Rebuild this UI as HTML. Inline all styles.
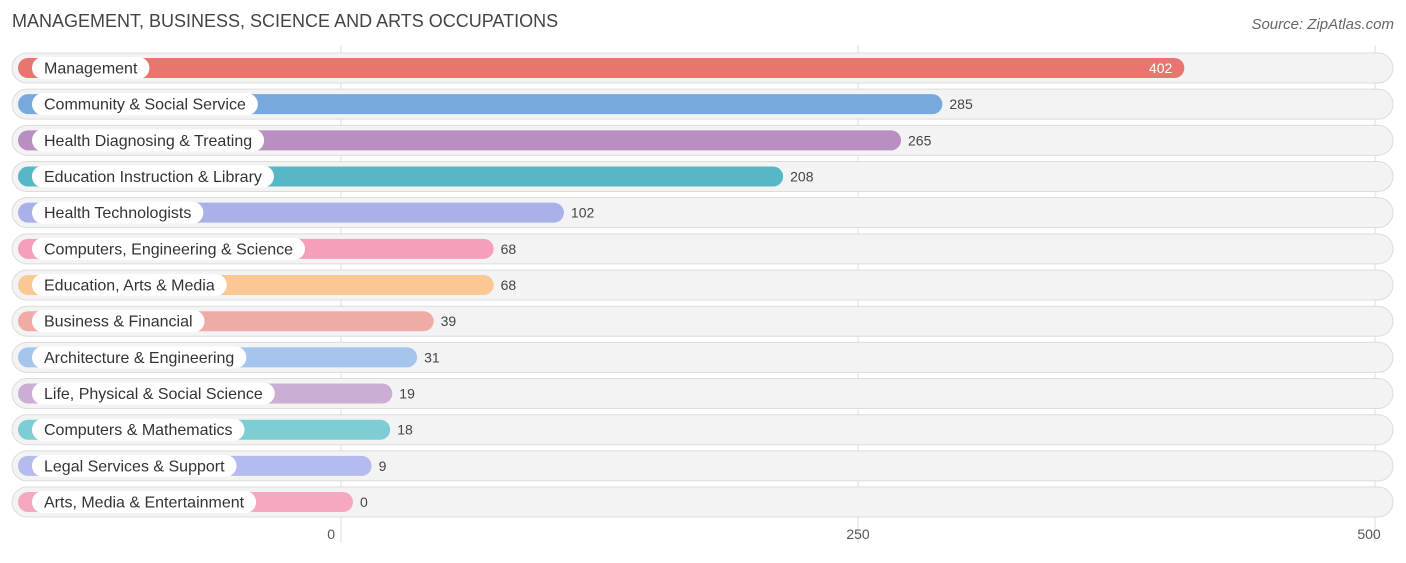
<!DOCTYPE html>
<html><head><meta charset="utf-8"><style>
body{margin:0;background:#fff;font-family:"Liberation Sans",sans-serif;}
</style></head><body>
<svg id="c" width="1406" height="558" xmlns="http://www.w3.org/2000/svg">
<text x="12" y="27" font-size="18" fill="#444">MANAGEMENT, BUSINESS, SCIENCE AND ARTS OCCUPATIONS</text>
<text x="1394" y="29" font-size="15" fill="#666" font-style="italic" text-anchor="end">Source: ZipAtlas.com</text>
</svg>
<script>
const categories=["Management","Community & Social Service","Health Diagnosing & Treating","Education Instruction & Library","Health Technologists","Computers, Engineering & Science","Education, Arts & Media","Business & Financial","Architecture & Engineering","Life, Physical & Social Science","Computers & Mathematics","Legal Services & Support","Arts, Media & Entertainment"];
const values=[402,285,265,208,102,68,68,39,31,19,18,9,0];
const colors=["#e8766f","#77a9de","#b88fc0","#56b8c6","#a9b1e8","#f59fba","#fbc792","#f0aba6","#a5c5ec","#cbaed4","#7dcdd2","#b4bbee","#f5a8c0"];
const ticks=[0,250,500];
const svg=document.getElementById('c');const NS="http://www.w3.org/2000/svg";
const x=v=>341+v*(517/250);
const y0=68,step=36.17;
function mk(t,a,p){const e=document.createElementNS(NS,t);for(const k in a)e.setAttribute(k,a[k]);(p||svg).appendChild(e);return e;}
ticks.forEach((t,i)=>{
 const g=mk('line',{x1:x(t),x2:x(t),y1:45,y2:543,stroke:'#ddd','stroke-width':1});
 
 
 const tx=mk('text',{x:x(t)+(i==2?-6:(i==0?-6:0)),y:539,'font-size':14,fill:'#555','text-anchor':i==0?'end':'middle'});
 tx.textContent=t;
 
 
});
categories.forEach((c,i)=>{
 const cy=y0+i*step;
 const bg=mk('rect',{x:12,y:cy-15,width:1381,height:30,rx:15,fill:'#f3f3f3',stroke:'#dcdcdc','stroke-width':1});
 
 
 const end=x(values[i])+12;
 const b=mk('rect',{x:18,y:cy-10,width:end-18,height:20,rx:10,fill:colors[i]});
 
 
 const lt=mk('text',{x:44,y:cy+5.5,'font-size':16,fill:'#333'});
 lt.textContent=c;
 
 
 const w=lt.getComputedTextLength();
 const pill=mk('rect',{x:32,y:cy-11,width:w+24,height:22,rx:11,fill:'#fff'});
 
 
 svg.insertBefore(pill,lt);
 const inside=values[i]>350;
 const vt=mk('text',{x:inside?end-12:end+7,y:cy+5,'font-size':14,fill:inside?'#fff':'#444','text-anchor':inside?'end':'start'});
 vt.textContent=values[i];
 
 
});
</script>
</body></html>
